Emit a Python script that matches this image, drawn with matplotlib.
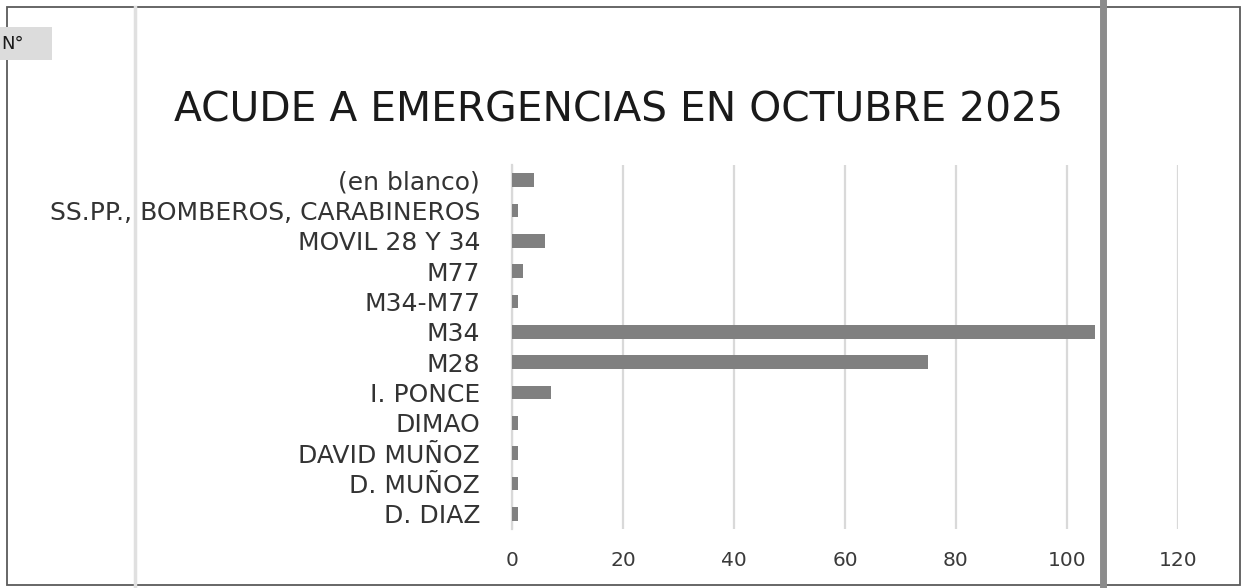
import matplotlib
matplotlib.use("Agg")
import matplotlib.pyplot as plt
from matplotlib.lines import Line2D
from matplotlib.patches import Rectangle

categorias = ["(en blanco)", "SS.PP., BOMBEROS, CARABINEROS", "MOVIL 28 Y 34",
              "M77", "M34-M77", "M34", "M28", "I. PONCE", "DIMAO",
              "DAVID MUÑOZ", "D. MUÑOZ", "D. DIAZ"]
valores = [4, 1, 6, 2, 1, 105, 75, 7, 1, 1, 1, 1]
ticks_x = [0, 20, 40, 60, 80, 100, 120]
titulo = "ACUDE A EMERGENCIAS EN OCTUBRE 2025"

plt.rcParams['font.family'] = ['DejaVu Sans']

W, H = 1244, 588
fig = plt.figure(figsize=(W / 100, H / 100), dpi=100)

def fx(px):
    return px / W

def fy(py):
    return 1 - py / H

# area del grafico
ax = fig.add_axes([fx(512), fy(529), fx(1178) - fx(512), fy(165) - fy(529)])
y = list(range(len(categorias)))
ax.barh(y, valores, height=0.45, color="#808080", zorder=3)
ax.set_xlim(0, 120)
ax.set_ylim(len(categorias) - 0.5, -0.5)
ax.set_xticks(ticks_x)
ax.set_yticks(y)
ax.set_yticklabels(categorias, fontsize=18, color="#333333")
ax.set_xticklabels([str(t) for t in ticks_x], fontsize=14.5, color="#3a3a3a")
ax.tick_params(axis="y", length=0, pad=23)
ax.tick_params(axis="x", length=0, pad=16)
ax.grid(axis="x", color="#d9d9d9", linewidth=1.6, zorder=0)
for s in ["top", "right", "bottom"]:
    ax.spines[s].set_visible(False)
ax.spines["left"].set_color("#d9d9d9")
ax.spines["left"].set_linewidth(1.6)

fig.text(fx(618), fy(110), titulo, ha="center", va="center",
         fontsize=29.3, color="#1a1a1a")

# marco y lineas de la hoja escaneada
fig.add_artist(Rectangle((fx(7), fy(585)), fx(1240) - fx(7), fy(7) - fy(585),
                         transform=fig.transFigure, fill=False,
                         edgecolor="#5a5a5a", linewidth=1.3))
fig.add_artist(Line2D([fx(135), fx(135)], [0, fy(7)], transform=fig.transFigure,
                      color="#e0e0e0", linewidth=2.5))
fig.add_artist(Line2D([fx(1103), fx(1103)], [0, 1], transform=fig.transFigure,
                      color="#8c8c8c", linewidth=5))

# recuadro "N°" en la esquina
fig.add_artist(Rectangle((0, fy(60)), fx(52), fy(27) - fy(60),
                         transform=fig.transFigure, facecolor="#dcdcdc",
                         edgecolor="none"))
fig.text(fx(1), fy(44), "N°", ha="left", va="center", fontsize=13,
         color="#1a1a1a")

fig.savefig("out.png", dpi=100)
